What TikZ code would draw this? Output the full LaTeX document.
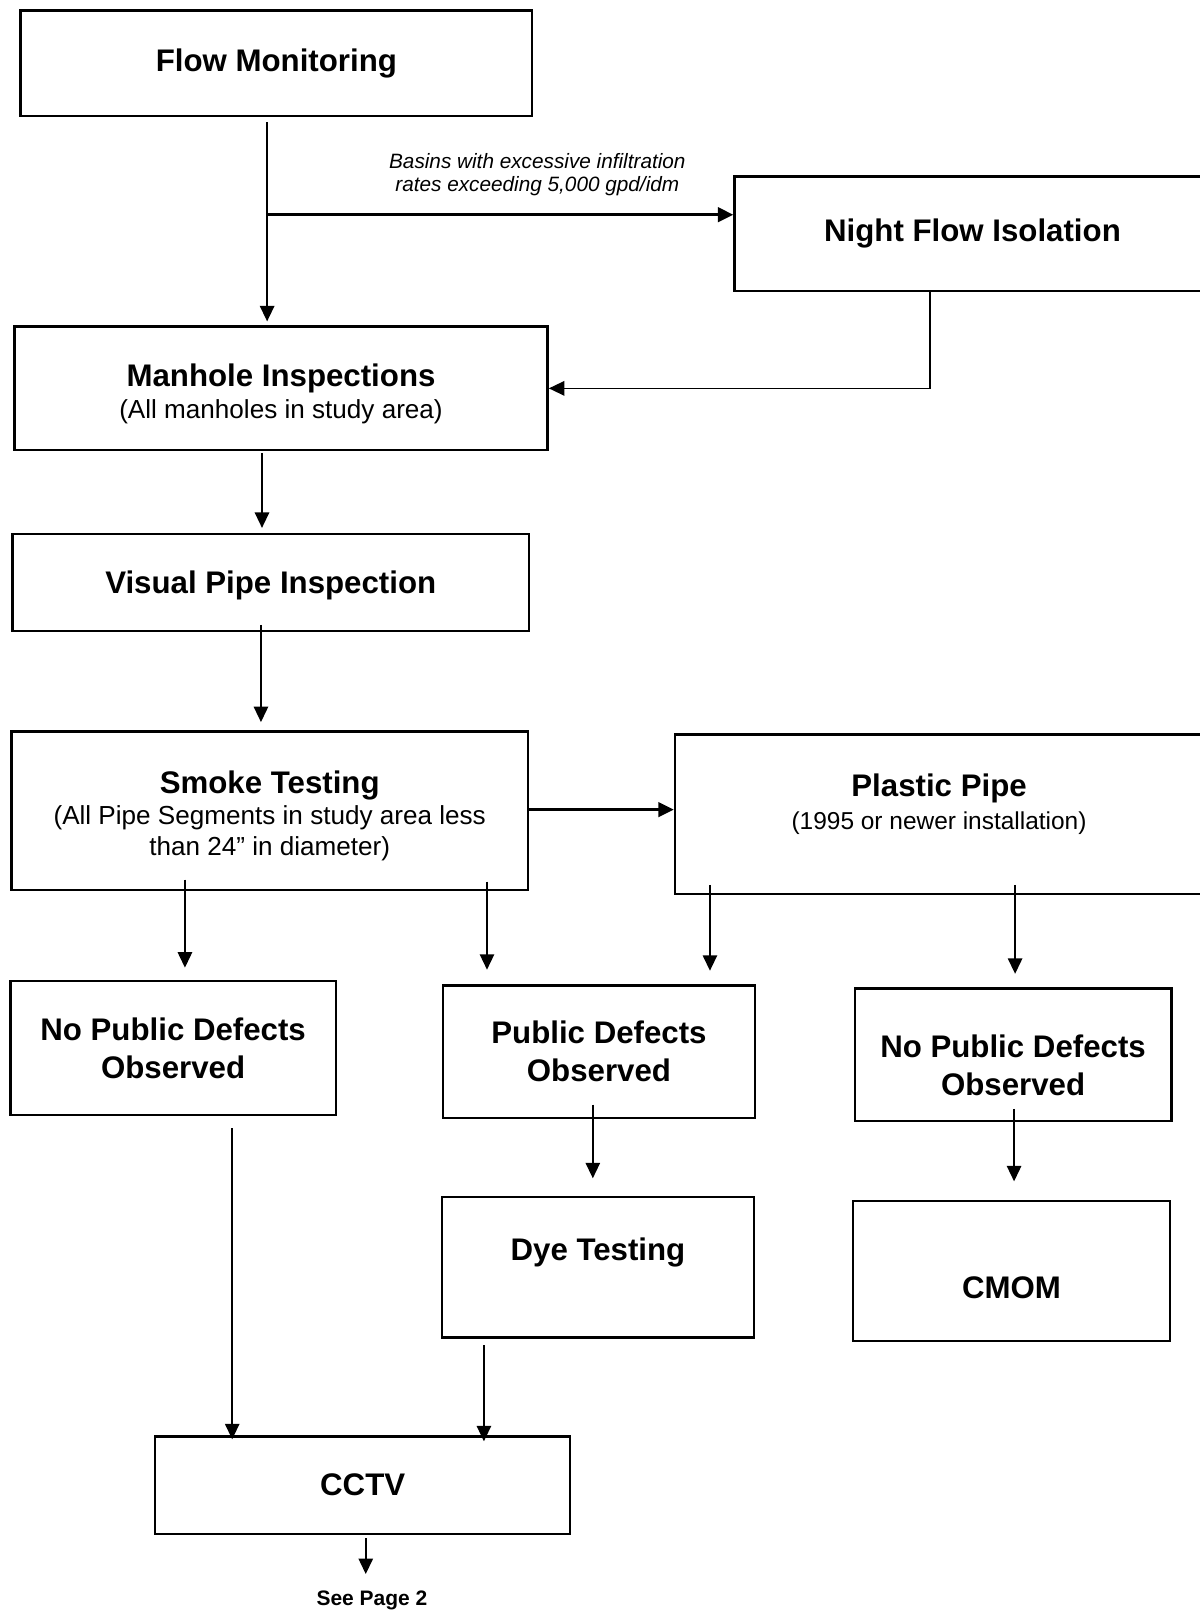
\documentclass[tikz,border=0pt]{standalone}
\usepackage{fontspec}
\setmainfont{Liberation Sans}
\usetikzlibrary{arrows.meta, calc, positioning}
\tikzset{>={Triangle[length=7.5pt,width=7pt]}}
\newcommand{\boxnote}{\fontsize{12.7}{15}\selectfont\mdseries}
\newcommand{\yearnote}{\fontsize{11.9}{14}\selectfont\mdseries}
\newcommand{\liftby}[2]{\raisebox{#1}[\height][\depth]{#2}}

\begin{document}
\begin{tikzpicture}[x=0.5pt, y=-0.5pt,
	box/.style={draw, line width=1.2pt, align=center, inner sep=0pt, font=\fontsize{15.2}{18.5}\selectfont\bfseries},
	flow/.style={->, line width=0.75pt},
	bigflow/.style={->, line width=1.5pt}]
	\useasboundingbox (0,0) rectangle (1167,1568);
	\node[box, minimum width=249pt, minimum height=51.5pt] (flowmon) at (269,61.5) {Flow Monitoring};
	\node[box, minimum width=231.5pt, minimum height=55.5pt] (night) at (946.5,227.5) {Night Flow Isolation};
	\node[box, minimum width=259.5pt, minimum height=60pt] (manhole) at (273.5,378) {\liftby{-2.5pt}{Manhole Inspections}\\[-3pt]\liftby{-2.5pt}{\boxnote (All manholes in study area)}};
	\node[box, minimum width=251.5pt, minimum height=47pt] (visual) at (263.5,567) {\liftby{-1.5pt}{Visual Pipe Inspection}};
	\node[box, minimum width=251.5pt, minimum height=77pt] (smoke) at (262.5,789) {\liftby{-2.5pt}{Smoke Testing}\\[-3.5pt]\liftby{-2.5pt}{\boxnote (All Pipe Segments in study area less}\\[-3.5pt]\liftby{-2.5pt}{\boxnote than 24” in diameter)}};
	\node[box, minimum width=257pt, minimum height=77.5pt] (plastic) at (914,792.5) {\liftby{5pt}{Plastic Pipe}\\[-2.3pt]\liftby{5pt}{\yearnote (1995 or newer installation)}};
	\node[box, minimum width=158.5pt, minimum height=65pt] (nodefl) at (168.5,1020) {No Public Defects\\Observed};
	\node[box, minimum width=152pt, minimum height=64.5pt] (defects) at (583,1023.5) {Public Defects\\Observed};
	\node[box, minimum width=154pt, minimum height=64.5pt] (nodefr) at (986,1026.5) {\liftby{-5pt}{No Public Defects}\\\liftby{-5pt}{Observed}};
	\node[box, minimum width=152pt, minimum height=68.5pt] (dye) at (582,1233.5) {\liftby{7.25pt}{Dye Testing}};
	\node[box, minimum width=154.5pt, minimum height=68pt] (cmom) at (984.5,1237) {\liftby{-8pt}{CMOM}};
	\node[box, minimum width=202pt, minimum height=47.5pt] (cctv) at (353,1445.5) {CCTV};
	\node[font=\fontsize{10.2}{12}\selectfont\bfseries, inner sep=0pt, anchor=north] (seepage) at (362,1548) {See Page 2};
	\node[font=\fontsize{10.1}{11}\selectfont\itshape, align=center] (basins) at (523,170) {Basins with excessive infiltration\\rates exceeding 5,000 gpd/idm};

	\coordinate (split) at (260,209);
	\draw[flow, shorten <=2.5pt, shorten >=2pt] (260,0 |- flowmon.south) -- (260,0 |- manhole.north);
	\draw[bigflow] (split) -- (night.west |- split);
	\draw[flow] (905,0 |- night.south) |- (manhole.east);
	\draw[flow, shorten <=1pt, shorten >=2.5pt] (255,0 |- manhole.south) -- (255,0 |- visual.north);
	\draw[flow, shorten <=-3.5pt, shorten >=4pt] (254,0 |- visual.south) -- (254,0 |- smoke.north);
	\draw[bigflow] (smoke.east |- 0,788) -- (plastic.west |- 0,788);
	\draw[flow, shorten <=-5.5pt, shorten >=6pt] (180,0 |- smoke.south) -- (180,0 |- nodefl.north);
	\draw[flow, shorten <=-4.5pt, shorten >=7pt] (474,0 |- smoke.south) -- (474,0 |- defects.north);
	\draw[flow, shorten <=-5pt, shorten >=6.5pt] (691,0 |- plastic.south) -- (691,0 |- defects.north);
	\draw[flow, shorten <=-5pt, shorten >=6.5pt] (988,0 |- plastic.south) -- (988,0 |- nodefr.north);
	\draw[flow, shorten <=-7pt, shorten >=8.5pt] (577,0 |- defects.south) -- (577,0 |- dye.north);
	\draw[flow, shorten <=-6.5pt, shorten >=9pt] (987,0 |- nodefr.south) -- (987,0 |- cmom.north);
	\draw[flow, shorten <=6pt, shorten >=-2pt] (226,0 |- nodefl.south) -- (226,0 |- cctv.north);
	\draw[flow, shorten <=3pt, shorten >=-3pt] (471,0 |- dye.south) -- (471,0 |- cctv.north);
	\draw[flow, shorten <=1.5pt, shorten >=8pt] (356,0 |- cctv.south) -- (356,0 |- seepage.north);
\end{tikzpicture}
\end{document}
